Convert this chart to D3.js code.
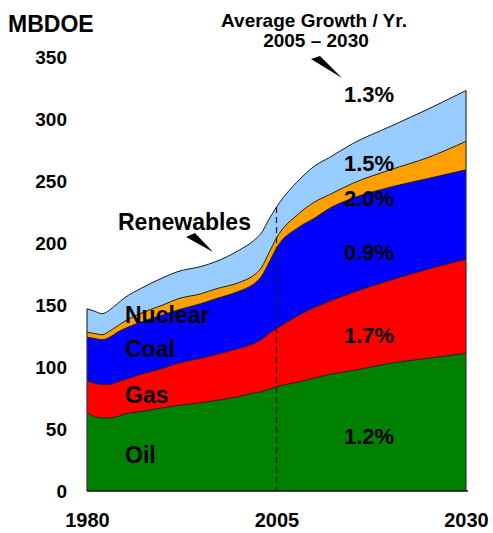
<!DOCTYPE html>
<html>
<head>
<meta charset="utf-8">
<script src="https://cdn.jsdelivr.net/npm/d3@7/dist/d3.min.js"></script>
<style>
  body { margin: 0; background: #fff; }
  text { font-family: "Liberation Sans", Arial, sans-serif; font-weight: bold; fill: #000; }
</style>
</head>
<body>
<div id="chart-holder"></div>
<script>
// energy demand by fuel, MBDOE
var years      = [1980, 1981, 1982, 1983, 1984, 1985, 1987, 1990, 1992, 1995, 1997, 2000, 2002, 2003, 2004, 2005, 2008, 2010, 2012, 2015, 2020, 2025, 2030];
var oil        = [63, 60, 59, 59, 60, 62, 64, 67, 69, 71, 73, 76, 79, 80, 82, 84, 88, 91, 94, 97, 103, 107, 111];
var gas        = [26, 27, 27, 27, 28, 28, 30, 32, 34, 36, 37, 39, 40, 42, 45, 47, 54, 57, 59, 63, 67, 72, 76];
var coal       = [35, 36, 36, 38, 40, 41, 42, 43, 43, 44, 45, 46, 48, 51, 57, 65, 71, 72, 75, 76, 75, 73, 72];
var nuclear    = [4, 4, 4, 5, 5, 6, 7, 8, 9, 8, 8, 7, 7, 7, 8, 8, 11, 13, 11, 12, 14, 17, 23];
var renewables = [19, 18, 17, 17, 18, 19, 20, 22, 22, 22, 22, 26, 28, 28, 27, 25, 27, 29, 30, 32, 35, 39, 41];

var fuels  = ["Oil", "Gas", "Coal", "Nuclear", "Renewables"];
var colors = ["#008000", "#ff0000", "#0000ff", "#ffa000", "#99ccff"];
var growth = ["1.2%", "1.7%", "0.9%", "2.0%", "1.5%", "1.3%"];
var yTicks = [0, 50, 100, 150, 200, 250, 300, 350];
var xTicks = [1980, 2005, 2030];

// build rows for the stack
var series = [oil, gas, coal, nuclear, renewables];
var rows = years.map(function(yr, i) {
  var row = { year: yr };
  fuels.forEach(function(f, k) { row[f] = series[k][i]; });
  return row;
});

var svg = d3.select("#chart-holder")
  .append("svg")
  .attr("width", 493)
  .attr("height", 533);

var x = d3.scaleLinear().domain([1980, 2030]).range([87, 466]);
var y = d3.scaleLinear().domain([0, 350]).range([491, 57]);

var stacked = d3.stack().keys(fuels)(rows);

var area = d3.area()
  .x(function(d) { return x(d.data.year); })
  .y0(function(d) { return y(d[0]); })
  .y1(function(d) { return y(d[1]); })
  .curve(d3.curveMonotoneX);

var topLine = d3.line()
  .x(function(d) { return x(d.data.year); })
  .y(function(d) { return y(d[1]); })
  .curve(d3.curveMonotoneX);

// areas
svg.selectAll("path.layer")
  .data(stacked)
  .enter()
  .append("path")
  .attr("class", "layer")
  .attr("d", area)
  .attr("fill", function(d, i) { return colors[i]; });

// thin dark edges on top of each layer
svg.selectAll("path.edge")
  .data(stacked)
  .enter()
  .append("path")
  .attr("class", "edge")
  .attr("d", topLine)
  .attr("fill", "none")
  .attr("stroke", "#1a1a1a")
  .attr("stroke-width", 1);

var outer = stacked[stacked.length - 1];
var firstPt = outer[0], lastPt = outer[outer.length - 1];
var pt2005 = outer[years.indexOf(2005)];

// side edges and baseline
svg.append("line")
  .attr("x1", x(1980)).attr("x2", x(1980))
  .attr("y1", y(0)).attr("y2", y(firstPt[1]))
  .attr("stroke", "#333").attr("stroke-width", 1.2);
svg.append("line")
  .attr("x1", x(2030)).attr("x2", x(2030))
  .attr("y1", y(0)).attr("y2", y(lastPt[1]))
  .attr("stroke", "#333").attr("stroke-width", 1.2);
svg.append("line")
  .attr("x1", x(1980)).attr("x2", x(2030) + 2)
  .attr("y1", y(0)).attr("y2", y(0))
  .attr("stroke", "#111").attr("stroke-width", 1.5);

// dashed 2005 marker
svg.append("line")
  .attr("x1", x(2005)).attr("x2", x(2005))
  .attr("y1", y(pt2005[1])).attr("y2", y(0))
  .attr("stroke", "#222")
  .attr("stroke-width", 1.3)
  .attr("stroke-dasharray", "6,4");

// y axis
var yAxis = svg.append("g")
  .attr("transform", "translate(" + x(1980) + ",0)")
  .call(d3.axisLeft(y).tickValues(yTicks).tickSize(0).tickPadding(20));
yAxis.select(".domain").remove();
yAxis.selectAll("text")
  .style("font-size", "19px")
  .style("font-family", "'Liberation Sans', Arial, sans-serif")
  .style("font-weight", "bold")
  .attr("fill", "#000");

// x axis
var xAxis = svg.append("g")
  .attr("transform", "translate(0," + y(0) + ")")
  .call(d3.axisBottom(x).tickValues(xTicks).tickFormat(d3.format("d")).tickSize(0).tickPadding(22));
xAxis.select(".domain").remove();
xAxis.selectAll("text")
  .style("font-size", "20px")
  .style("font-family", "'Liberation Sans', Arial, sans-serif")
  .style("font-weight", "bold")
  .attr("fill", "#000");

// unit label and header
svg.append("text")
  .attr("x", 8).attr("y", 32)
  .style("font-size", "23px")
  .text("MBDOE");
svg.append("text")
  .attr("x", 314).attr("y", 27)
  .attr("text-anchor", "middle")
  .style("font-size", "19px")
  .text("Average Growth / Yr.");
svg.append("text")
  .attr("x", 316).attr("y", 47)
  .attr("text-anchor", "middle")
  .style("font-size", "19px")
  .text("2005 \u2013 2030");

// fuel labels
var fuelLabelY = [463, 403, 357, 323, 230];
fuels.forEach(function(f, i) {
  svg.append("text")
    .attr("x", i === 4 ? 118 : 125)
    .attr("y", fuelLabelY[i])
    .style("font-size", "23px")
    .text(f);
});

// growth labels
var growthY = [444, 343, 260, 206, 171, 102];
growth.forEach(function(g, i) {
  svg.append("text")
    .attr("x", 369)
    .attr("y", growthY[i])
    .attr("text-anchor", "middle")
    .style("font-size", "22px")
    .text(g);
});

// callout pointers
svg.append("polygon")
  .attr("points", "311,59 320,56 342,78")
  .attr("fill", "#000");
svg.append("polygon")
  .attr("points", "186,237 195,233 213,252")
  .attr("fill", "#000");
</script>
</body>
</html>
